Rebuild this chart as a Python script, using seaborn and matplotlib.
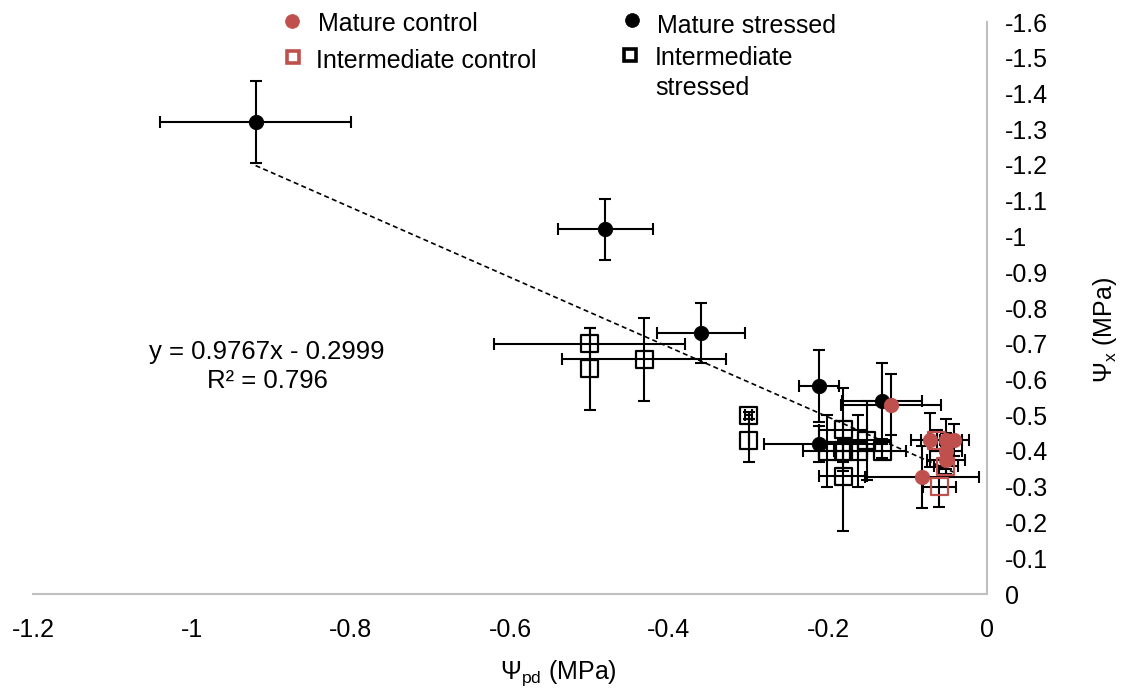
import numpy as np
import pandas as pd
import matplotlib
matplotlib.use("Agg")
import matplotlib.pyplot as plt
import seaborn as sns
from matplotlib.lines import Line2D

# ---------------- data ----------------
mature_stressed_x = [-0.92, -0.48, -0.36, -0.211, -0.211, -0.132]
mature_stressed_y = [-1.32, -1.02, -0.73, -0.582, -0.42, -0.54]
mature_stressed_xerr = [0.12, 0.06, 0.055, 0.025, 0.07, 0.05]
mature_stressed_yerr = [0.115, 0.085, 0.083, 0.10, 0.05, 0.106]

mature_control_x = [-0.121, -0.072, -0.052, -0.041, -0.052, -0.052, -0.082]
mature_control_y = [-0.53, -0.43, -0.43, -0.43, -0.40, -0.375, -0.327]
mature_control_xerr = [0.063, 0.023, 0.02, 0.018, 0.02, 0.024, 0.072]
mature_control_yerr = [0.085, 0.075, 0.06, 0.045, 0.05, 0.04, 0.087]

inter_control_x = [-0.063, -0.052, -0.06]
inter_control_y = [-0.43, -0.358, -0.30]
inter_control_xerr = [0.02, 0.015, 0.021]
inter_control_yerr = [0.03, 0.03, 0.056]

inter_stressed_x = [-0.50, -0.50, -0.431, -0.30, -0.30, -0.181, -0.201, -0.181, -0.162, -0.151, -0.132, -0.181]
inter_stressed_y = [-0.70, -0.63, -0.657, -0.50, -0.43, -0.46, -0.40, -0.40, -0.40, -0.43, -0.40, -0.33]
inter_stressed_xerr = [0.12, 0.0, 0.103, 0.005, 0.0, 0.03, 0.03, 0.03, 0.03, 0.03, 0.03, 0.03]
inter_stressed_yerr = [0.045, 0.115, 0.116, 0.01, 0.06, 0.115, 0.10, 0.03, 0.10, 0.11, 0.02, 0.155]

trend_slope = 0.9767
trend_intercept = -0.2999
trend_r2 = 0.796

x_ticks = [-1.2, -1.0, -0.8, -0.6, -0.4, -0.2, 0.0]
y_ticks = [round(-0.1 * i, 1) for i in range(0, 17)]

legend_labels = ["Mature control", "Intermediate control", "Mature stressed", "Intermediate\nstressed"]

RED = "#C0504D"

# ---------------- style ----------------
sns.set_theme(style="white")
plt.rcParams["font.family"] = ["Liberation Sans", "DejaVu Sans"]
plt.rcParams["mathtext.fontset"] = "custom"
plt.rcParams["mathtext.rm"] = "Liberation Sans"
plt.rcParams["mathtext.it"] = "Liberation Sans:italic"
plt.rcParams["mathtext.default"] = "rm"
plt.rcParams["text.color"] = "black"
plt.rcParams["xtick.color"] = "black"
plt.rcParams["ytick.color"] = "black"

W, H = 1125, 694
fig = plt.figure(figsize=(W / 100, H / 100), dpi=100)
fig.patch.set_facecolor("white")
ax = fig.add_axes([33 / W, 1 - 594 / H, (987 - 33) / W, (594 - 22) / H])
ax.set_facecolor("white")

def fx(px):
    return px / W

def fy(py):
    return 1 - py / H

eb_kw = dict(fmt="none", ecolor="black", elinewidth=1.5, capsize=4.5, capthick=1.5, zorder=2)

groups = [
    (mature_stressed_x, mature_stressed_y, mature_stressed_xerr, mature_stressed_yerr),
    (mature_control_x, mature_control_y, mature_control_xerr, mature_control_yerr),
    (inter_control_x, inter_control_y, inter_control_xerr, inter_control_yerr),
    (inter_stressed_x, inter_stressed_y, inter_stressed_xerr, inter_stressed_yerr),
]
for gx, gy, gxe, gye in groups:
    ax.errorbar(gx, gy, xerr=gxe, yerr=gye, **eb_kw)

# trend line
all_x = mature_stressed_x + mature_control_x + inter_control_x + inter_stressed_x
tx = np.array([min(all_x), max(all_x)])
ax.plot(tx, trend_slope * tx + trend_intercept, color="black", lw=1.2,
        linestyle=(0, (3, 2)), zorder=2.5)

# markers via seaborn
sns.scatterplot(x=inter_stressed_x, y=inter_stressed_y, ax=ax, marker="s", s=150,
                facecolor="none", edgecolor="black", linewidth=1.6, zorder=3, legend=False)
sns.scatterplot(x=inter_control_x, y=inter_control_y, ax=ax, marker="s", s=150,
                facecolor="none", edgecolor=RED, linewidth=1.6, zorder=3, legend=False)
sns.scatterplot(x=mature_stressed_x, y=mature_stressed_y, ax=ax, marker="o", s=110,
                color="black", edgecolor="black", linewidth=0.5, zorder=4, legend=False)
sns.scatterplot(x=mature_control_x, y=mature_control_y, ax=ax, marker="o", s=110,
                color=RED, edgecolor=RED, linewidth=0.5, zorder=4, legend=False)

# axes
ax.set_xlim(-1.2, 0)
ax.set_ylim(0, -1.6)
ax.set_xticks(x_ticks)
ax.set_xticklabels([f"{v:g}" if abs(v) > 1e-9 else "0" for v in x_ticks])
ax.set_yticks(y_ticks)
ax.set_yticklabels([f"{v:g}" if abs(v) > 1e-9 else "0" for v in y_ticks])
ax.yaxis.tick_right()
ax.tick_params(axis="both", length=0, labelsize=18, colors="black")
ax.tick_params(axis="x", pad=17)
ax.tick_params(axis="y", pad=13)
for s in ["top", "left"]:
    ax.spines[s].set_visible(False)
for s in ["bottom", "right"]:
    ax.spines[s].set_visible(True)
    ax.spines[s].set_color("#BFBFBF")
    ax.spines[s].set_linewidth(1.5)
ax.grid(False)
ax.set_xlabel("")
ax.set_ylabel("")

# axis titles
fig.text(fx(558), fy(673), r"$\Psi_{\mathrm{pd}}$ (MPa)", ha="center", va="center",
         fontsize=18, color="black")
fig.text(fx(1105), fy(330), r"$\Psi_{\mathrm{x}}$ (MPa)", ha="center", va="center",
         fontsize=18, rotation=90, color="black")

# trendline equation (centered, Excel-like)
fig.text(fx(267), fy(352), f"y = {trend_slope}x - {abs(trend_intercept)}", ha="center",
         va="center", fontsize=18.5, color="black")
fig.text(fx(267), fy(381), f"R\u00b2 = {trend_r2}", ha="center", va="center",
         fontsize=18.5, color="black")

# legend (manual, Excel-like)
leg_items = [
    (292, 21, "o", RED, RED, 318, 24, legend_labels[0]),
    (293, 57, "s", "white", RED, 316, 61, legend_labels[1]),
    (632, 20, "o", "black", "black", 657, 26, legend_labels[2]),
    (630, 55, "s", "white", "black", 655, 58, legend_labels[3]),
]
for mx, my, mk, fc, ec, tx_, ty_, lab in leg_items:
    ms = 10 if mk == "o" else 8
    mew = 0.5 if mk == "o" else 2.6
    fig.add_artist(Line2D([fx(mx)], [fy(my)], transform=fig.transFigure, marker=mk,
                          markersize=ms, markerfacecolor=fc, markeredgecolor=ec,
                          markeredgewidth=mew, linestyle="none"))
    if "\n" in lab:
        fig.text(fx(tx_), fy(ty_ - 12), lab, ha="left", va="top", fontsize=18,
                 linespacing=1.3, color="black")
    else:
        fig.text(fx(tx_), fy(ty_), lab, ha="left", va="center", fontsize=18, color="black")

fig.savefig("out.png", dpi=100, facecolor="white")
